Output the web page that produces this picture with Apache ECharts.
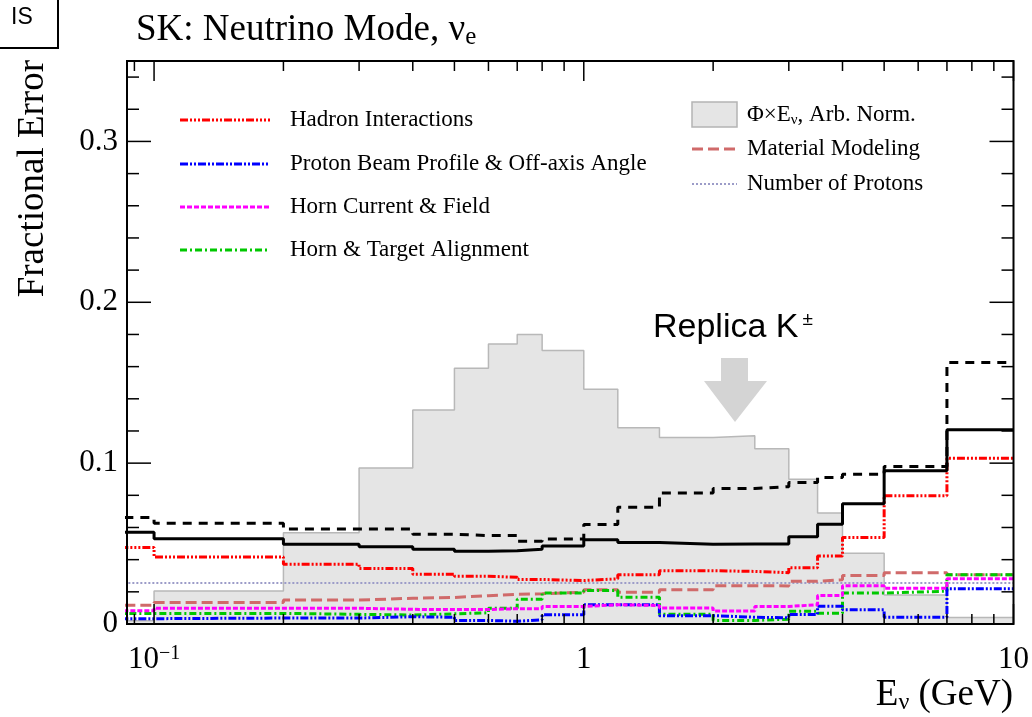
<!DOCTYPE html>
<html><head><meta charset="utf-8">
<script src="https://cdn.jsdelivr.net/npm/echarts@6/dist/echarts.min.js"></script>
<style>html,body{margin:0;padding:0;background:#fff}#c{width:1032px;height:717px}</style>
</head><body><div id="c"></div>
<script>
// ---- data ----
// bin edges in GeV (first edge stands for 0; clipped by the log axis)
const binEdges = [0.01, 0.1, 0.2, 0.3, 0.4, 0.5, 0.6, 0.7, 0.8, 1.0, 1.2, 1.5, 2.0, 2.5, 3.0, 3.5, 4.0, 5.0, 7.0, 10.0];
const fluxShape   = [0.002, 0.0205, 0.0568, 0.097, 0.133, 0.159, 0.174, 0.180, 0.170, 0.146, 0.122, 0.116, 0.117, 0.109, 0.090, 0.069, 0.044, 0.018, 0.004];
const totalError  = [0.057, 0.053, 0.0496, 0.048, 0.0465, 0.0452, 0.0456, 0.0465, 0.0485, 0.0523, 0.0506, 0.0496, 0.0498, 0.0498, 0.0543, 0.062, 0.0747, 0.0952, 0.1207];
const prevError   = [0.0662, 0.0627, 0.0591, 0.059, 0.0558, 0.055, 0.055, 0.0515, 0.0529, 0.0618, 0.0726, 0.0815, 0.0842, 0.0854, 0.0879, 0.091, 0.0931, 0.0979, 0.1626];
const hadronInt   = [0.0475, 0.0417, 0.0371, 0.0345, 0.031, 0.0297, 0.029, 0.0277, 0.027, 0.0281, 0.0306, 0.0331, 0.0327, 0.0319, 0.035, 0.0422, 0.0537, 0.0798, 0.1031];
const beamProfile = [0.0033, 0.0037, 0.0037, 0.0045, 0.0042, 0.0022, 0.0017, 0.0026, 0.0057, 0.012, 0.012, 0.0052, 0.0042, 0.0039, 0.0059, 0.0111, 0.0088, 0.0042, 0.0219];
const hornCurrent = [0.0083, 0.0098, 0.0098, 0.0091, 0.009, 0.009, 0.0095, 0.0095, 0.0109, 0.012, 0.0115, 0.0100, 0.0081, 0.0109, 0.012, 0.0177, 0.0238, 0.0223, 0.0281];
const hornAlign   = [0.0066, 0.0066, 0.006, 0.0056, 0.0063, 0.007, 0.0098, 0.0154, 0.0192, 0.0208, 0.0167, 0.0061, 0.0022, 0.003, 0.008, 0.0067, 0.0192, 0.0204, 0.0306];
const material    = [0.0116, 0.0133, 0.0149, 0.016, 0.0165, 0.0176, 0.0184, 0.0188, 0.0198, 0.0213, 0.0197, 0.0213, 0.0238, 0.0237, 0.0265, 0.0275, 0.0302, 0.0319, 0.0306];
const protons     = [0.0255, 0.0255, 0.0255, 0.0255, 0.0255, 0.0255, 0.0255, 0.0255, 0.0255, 0.0255, 0.0255, 0.0255, 0.0255, 0.0255, 0.0255, 0.0255, 0.0255, 0.0255, 0.0255];

const xMajorTicks = [0.1, 1, 10];
const xMinorTicks = [0.09, 0.2, 0.3, 0.4, 0.5, 0.6, 0.7, 0.8, 0.9, 2, 3, 4, 5, 6, 7, 8, 9];
const yMajorTicks = [0, 0.1, 0.2, 0.3];
const yMinorTicks = [0.02, 0.04, 0.06, 0.08, 0.12, 0.14, 0.16, 0.18, 0.22, 0.24, 0.26, 0.28, 0.32, 0.34];

const legendLeft  = ['Hadron Interactions', 'Proton Beam Profile & Off-axis Angle', 'Horn Current & Field', 'Horn & Target Alignment'];
const legendRight = ['Material Modeling', 'Number of Protons'];

// ---- styles ----
const SERIF = '"Liberation Serif","Times New Roman","DejaVu Serif",serif';
const SANS = '"Liberation Sans",Arial,"DejaVu Sans",sans-serif';
const sty = {
  hadron:   {color: '#ff0000', width: 3, type: [8, 2, 2, 2, 2, 2, 2, 2]},
  beam:     {color: '#0000ff', width: 3, type: [8, 2, 2, 2, 2, 2]},
  horn:     {color: '#ff00ff', width: 3, type: [5, 2]},
  align:    {color: '#00c800', width: 3, type: [7, 3, 2, 3]},
  material: {color: '#d06a6a', width: 3, type: [11, 5]},
  protons:  {color: '#9c9cc8', width: 2, type: [2, 2]},
  total:    {color: '#000000', width: 3, type: 'solid'},
  prev:     {color: '#000000', width: 3, type: [9, 7]}
};

function steps(vals) {
  const pts = [];
  for (let i = 0; i < vals.length; i++) {
    pts.push([binEdges[i], vals[i]]);
    pts.push([binEdges[i + 1], vals[i]]);
  }
  return pts;
}
function lineSeries(name, vals, st, z) {
  return {name, type: 'line', data: steps(vals), symbol: 'none', showSymbol: false,
    lineStyle: {color: st.color, width: st.width, type: st.type}, z: z || 3, silent: true, animation: false, clip: true};
}
function xTickSeries(vals, len) {
  return {type: 'custom', data: vals.map(v => [v, 0]), z: 20, silent: true, animation: false,
    renderItem(params, api) {
      const p = api.coord([api.value(0), 0]);
      const cs = params.coordSys;
      const st = {stroke: '#000', lineWidth: 1.5};
      return {type: 'group', children: [
        {type: 'line', shape: {x1: p[0], y1: cs.y + cs.height, x2: p[0], y2: cs.y + cs.height - len}, style: st},
        {type: 'line', shape: {x1: p[0], y1: cs.y, x2: p[0], y2: cs.y + len}, style: st}
      ]};
    }};
}
function yTickSeries(vals, len) {
  return {type: 'custom', data: vals.map(v => [1, v]), z: 20, silent: true, animation: false,
    renderItem(params, api) {
      const p = api.coord([1, api.value(1)]);
      const cs = params.coordSys;
      const st = {stroke: '#000', lineWidth: 1.5};
      return {type: 'group', children: [
        {type: 'line', shape: {x1: cs.x, y1: p[1], x2: cs.x + len, y2: p[1]}, style: st},
        {type: 'line', shape: {x1: cs.x + cs.width, y1: p[1], x2: cs.x + cs.width - len, y2: p[1]}, style: st}
      ]};
    }};
}

const chart = echarts.init(document.getElementById('c'), null, {renderer: 'canvas'});

// legend graphics
const graphics = [];
const leftRows = [120, 164, 207, 250];
const leftStyles = [sty.hadron, sty.beam, sty.horn, sty.align];
legendLeft.forEach((t, i) => {
  const s = leftStyles[i];
  graphics.push({type: 'line', shape: {x1: 180, y1: leftRows[i], x2: 270, y2: leftRows[i]},
    style: {stroke: s.color, lineWidth: s.width, lineDash: s.type}});
  graphics.push({type: 'text', x: 290, y: leftRows[i], style: {text: t, font: '23px ' + SERIF, fill: '#000', verticalAlign: 'middle'}});
});
graphics.push({type: 'rect', shape: {x: 692, y: 102, width: 45, height: 25}, style: {fill: '#e5e5e5', stroke: '#b4b4b4', lineWidth: 1.5}});
graphics.push({type: 'text', x: 747, y: 115, style: {
  text: '{a|Φ×E}{s|ν}{a|, Arb. Norm.}', verticalAlign: 'middle', fill: '#000',
  rich: {a: {fontFamily: SERIF, fontSize: 23, lineHeight: 26, fill: '#000'},
         s: {fontFamily: SERIF, fontSize: 15, lineHeight: 8, verticalAlign: 'bottom', fill: '#000'}}}});
const rightRows = [149, 184];
const rightStyles = [sty.material, sty.protons];
legendRight.forEach((t, i) => {
  const s = rightStyles[i];
  graphics.push({type: 'line', shape: {x1: 692, y1: rightRows[i], x2: 737, y2: rightRows[i]},
    style: {stroke: s.color, lineWidth: s.width, lineDash: s.type}});
  graphics.push({type: 'text', x: 747, y: rightRows[i], style: {text: t, font: '23px ' + SERIF, fill: '#000', verticalAlign: 'middle'}});
});
// title
graphics.push({type: 'text', x: 136, y: 10, style: {
  text: '{a|SK: Neutrino Mode, ν}{s|e}', verticalAlign: 'top',
  rich: {a: {fontFamily: SERIF, fontSize: 37, lineHeight: 40, fill: '#000'},
         s: {fontFamily: SERIF, fontSize: 25, lineHeight: 12, verticalAlign: 'bottom', fill: '#000'}}}});
// y axis title
graphics.push({type: 'text', x: 33, y: 60, rotation: Math.PI / 2, style: {
  text: 'Fractional Error', font: '37px ' + SERIF, fill: '#000', align: 'right', verticalAlign: 'middle'}});
// x axis title
graphics.push({type: 'text', x: 1013, y: 695, style: {
  text: '{a|E}{s|ν}{a| (GeV)}', align: 'right', verticalAlign: 'middle',
  rich: {a: {fontFamily: SERIF, fontSize: 37, lineHeight: 40, fill: '#000'},
         s: {fontFamily: SERIF, fontSize: 24, lineHeight: 12, verticalAlign: 'bottom', fill: '#000'}}}});
// IS box
graphics.push({type: 'rect', shape: {x: -4, y: -4, width: 62, height: 52}, style: {fill: '#fff', stroke: '#000', lineWidth: 2}});
graphics.push({type: 'text', x: 11, y: 18, style: {text: 'IS', font: '23px ' + SANS, fill: '#000', verticalAlign: 'middle'}});
// Replica annotation
graphics.push({type: 'text', x: 653, y: 328, style: {
  text: '{a|Replica K}{s|±}', verticalAlign: 'middle',
  rich: {a: {fontFamily: SANS, fontSize: 34, lineHeight: 36, fill: '#000'},
         s: {fontFamily: SANS, fontSize: 19, lineHeight: 18, verticalAlign: 'top', padding: [0, 0, 0, 4], fill: '#000'}}}});
graphics.push({type: 'polygon', shape: {points: [[721, 358], [748, 358], [748, 381], [767, 381], [735, 422], [704, 381], [721, 381]]},
  style: {fill: '#d4d4d4'}});

chart.setOption({
  animation: false,
  backgroundColor: '#ffffff',
  grid: {left: 127, right: 18, top: 61, bottom: 93, show: true, borderColor: '#000', borderWidth: 2, backgroundColor: 'transparent', z: 15},
  xAxis: {
    type: 'log', logBase: 10, min: 0.0865, max: 10,
    axisLine: {show: false}, axisTick: {show: false}, splitLine: {show: false}, minorTick: {show: false},
    axisLabel: {
      margin: 20, color: '#000',
      formatter: v => {
        const l = Math.log10(v);
        if (Math.abs(l - Math.round(l)) > 1e-6) return '';
        const k = Math.round(l);
        if (k === -1) return '{b|10}{s|−1}';
        return '{b|' + Math.pow(10, k) + '}';
      },
      rich: {b: {fontFamily: SERIF, fontSize: 31, lineHeight: 32, color: '#000'},
             s: {fontFamily: SERIF, fontSize: 20, lineHeight: 14, verticalAlign: 'top', color: '#000'}}
    }
  },
  yAxis: {
    type: 'value', min: 0, max: 0.35, interval: 0.1,
    axisLine: {show: false}, axisTick: {show: false}, splitLine: {show: false},
    axisLabel: {
      margin: 9, color: '#000', fontFamily: SERIF, fontSize: 31,
      formatter: v => (Math.abs(v * 10 - Math.round(v * 10)) > 1e-6 ? '' : (v === 0 ? '0' : v.toFixed(1)))
    }
  },
  graphic: graphics,
  series: [
    {name: 'flux', type: 'line', data: steps(fluxShape), symbol: 'none', showSymbol: false, z: 1, silent: true, animation: false,
     lineStyle: {color: '#b8b8b8', width: 1.5}, areaStyle: {color: '#e5e5e5', opacity: 1, origin: 'start'}},
    lineSeries('Number of Protons', protons, sty.protons),
    lineSeries('Material Modeling', material, sty.material),
    lineSeries('Horn & Target Alignment', hornAlign, sty.align),
    lineSeries('Proton Beam Profile & Off-axis Angle', beamProfile, sty.beam),
    lineSeries('Horn Current & Field', hornCurrent, sty.horn),
    lineSeries('Hadron Interactions', hadronInt, sty.hadron),
    lineSeries('Previous', prevError, sty.prev, 5),
    lineSeries('Total', totalError, sty.total, 6),
    xTickSeries(xMajorTicks, 20),
    xTickSeries(xMinorTicks, 10),
    yTickSeries(yMajorTicks, 24),
    yTickSeries(yMinorTicks, 12)
  ]
});
</script>
</body></html>
